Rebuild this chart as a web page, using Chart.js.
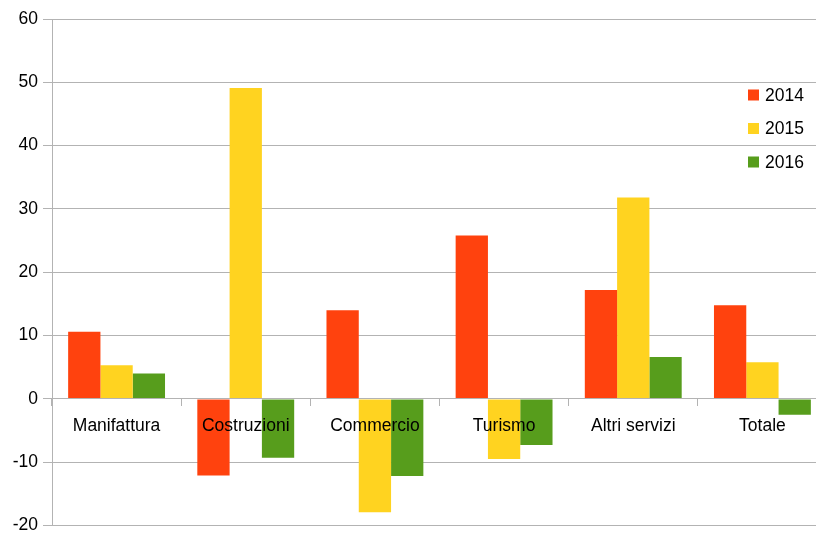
<!DOCTYPE html>
<html>
<head>
<meta charset="utf-8">
<script src="https://cdn.jsdelivr.net/npm/chart.js@4.4.1/dist/chart.umd.min.js"></script>
<style>
  body { margin: 0; overflow: hidden; background: #fff; }
  #wrap { width: 830px; height: 541px; }
</style>
</head>
<body>
<div id="wrap"><canvas id="grafico"></canvas></div>
<script>
const categorie = ['Manifattura', 'Costruzioni', 'Commercio', 'Turismo', 'Altri servizi', 'Totale'];
const anni = ['2014', '2015', '2016'];
const valori2014 = [10.6, -12.1, 14.0, 25.8, 17.2, 14.8];
const valori2015 = [5.3, 49.1, -17.9, -9.5, 31.8, 5.8];
const valori2016 = [4.0, -9.3, -12.2, -7.3, 6.6, -2.5];
const colori = ['#ff420e', '#ffd320', '#579d1c'];

const font = { family: '"Liberation Sans", Arial, sans-serif', size: 17.5 };

// legenda disegnata dentro l'area del grafico, come nell'originale
const legendaInterna = {
  id: 'legendaInterna',
  afterDraw(chart) {
    const ctx = chart.ctx;
    ctx.save();
    ctx.font = '17.5px "Liberation Sans", Arial, sans-serif';
    ctx.textBaseline = 'middle';
    chart.data.datasets.forEach((ds, i) => {
      const y = 95 + i * 33.5;
      ctx.fillStyle = ds.backgroundColor;
      ctx.fillRect(748, y - 5.5, 11, 11);
      ctx.fillStyle = '#000';
      ctx.fillText(ds.label, 765, y + 1);
    });
    ctx.restore();
  }
};

new Chart(document.getElementById('grafico'), {
  type: 'bar',
  data: {
    labels: categorie,
    datasets: [
      { label: anni[0], data: valori2014, backgroundColor: colori[0] },
      { label: anni[1], data: valori2015, backgroundColor: colori[1] },
      { label: anni[2], data: valori2016, backgroundColor: colori[2] }
    ]
  },
  options: {
    responsive: true,
    maintainAspectRatio: false,
    animation: false,
    layout: { padding: { top: 19, bottom: 0, left: 0, right: 3 } },
    datasets: { bar: { categoryPercentage: 0.75, barPercentage: 1 } },
    plugins: { legend: { display: false }, tooltip: { enabled: false } },
    scales: {
      x: {
        position: { y: 0 },
        offset: true,
        grid: { offset: true, drawOnChartArea: false, drawTicks: true, tickLength: 7, color: '#b3b3b3' },
        border: { color: '#b3b3b3', z: 1 },
        ticks: { color: '#000', font: font, padding: 10, maxRotation: 0, autoSkip: false, z: 2 }
      },
      y: {
        min: -20,
        max: 60,
        ticks: { stepSize: 10, color: '#000', font: font, padding: 5 },
        grid: { color: '#b3b3b3', tickLength: 9 },
        border: { color: '#b3b3b3' },
        afterFit(scale) { scale.width = 52; }
      }
    }
  },
  plugins: [legendaInterna]
});
</script>
</body>
</html>
